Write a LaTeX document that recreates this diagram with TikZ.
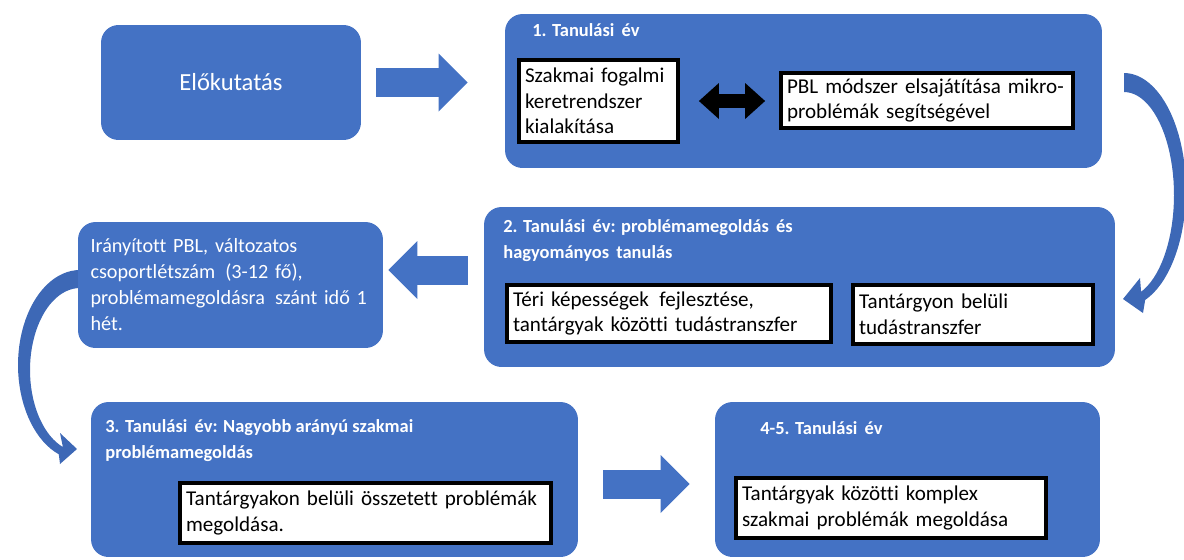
\documentclass[tikz,border=0pt]{standalone}
\usepackage{fontspec}
\setmainfont{Carlito}[Ligatures=CommonOff]
\usetikzlibrary{arrows.meta}
\definecolor{phaseblue}{HTML}{4472C4}
\definecolor{turnblue}{HTML}{3D68B6}

\begin{document}
\begin{tikzpicture}[x=0.02cm,y=-0.02cm,
  phase/.style={fill=phaseblue,rounded corners=0.35cm,inner sep=0pt},
  phasetitle/.style={text=white,anchor=west,align=left,inner sep=0pt,font=\bfseries\fontsize{10.5}{14.8}\selectfont},
  textbox/.style={fill=white,draw=black,line width=2.2pt,align=left,inner xsep=0.12cm,inner ysep=0pt,font=\fontsize{12}{14.6}\selectfont},
  bigarrow/.style={draw=phaseblue,line width=0.58cm,-{Triangle[length=0.58cm,width=1.16cm,line width=0pt]}},
  pairarrow/.style={draw=black,line width=0.28cm,{Triangle[length=0.4cm,width=0.72cm,line width=0pt]}-{Triangle[length=0.4cm,width=0.72cm,line width=0pt]}}]
\useasboundingbox (0,0) rectangle (1184,559);

% curved arrows
\fill[turnblue] plot[domain=0:160,samples=40] ({1124+62*sin(\x)},{190-117*cos(\x)})
  -- (1143,313) -- (1123,299) -- (1140,278)
  -- plot[domain=160:0,samples=40] ({1124+50*sin(\x)},{195-103*cos(\x)}) -- cycle;
\fill[turnblue] plot[domain=0:160,samples=40] ({80-62*sin(\x)},{365-95*cos(\x)})
  -- (60,464) -- (77,449) -- (60,433)
  -- plot[domain=160:0,samples=40] ({80-50*sin(\x)},{370-82*cos(\x)}) -- cycle;

% first row
\node[phase,minimum width=5.2cm,minimum height=2.3cm,text=white,font=\fontsize{14}{17}\selectfont] (pre) at (231,82.5) {Előkutatás\hspace{0.35cm}};
\node[phase,minimum width=11.94cm,minimum height=3.08cm] (y1) at (803.5,91) {};
\node[phasetitle] (t1) at (532,30) {1. Tanulási\, év};
\node[textbox,text width=2.94cm,minimum height=1.64cm] (fw) at (598.5,101) {Szakmai fogalmi\\ keretrendszer\\ kialakítása};
\node[textbox,text width=5.6cm,minimum height=1.1cm] (pbl) at (927,100.5) {PBL módszer elsajátítása mikro-\\ problémák segítségével};
\draw[bigarrow,shorten <=0.3cm,shorten >=0.74cm] (pre.east) -- (pre.east -| y1.west);
\draw[pairarrow,shorten <=0.38cm,shorten >=0.28cm] (fw.east) -- (fw.east -| pbl.west);

% second row
\node[phase,minimum width=12.62cm,minimum height=3.2cm] (y2) at (799.5,287) {};
\node[phasetitle] (t2) at (503,241) {2. Tanulási\, év: problémamegoldás\, és\\ hagyományos\, tanulás};
\node[textbox,text width=6.24cm,minimum height=1.14cm] (skills) at (669,313.5) {Téri képességek\, fejlesztése,\\ tantárgyak közötti tudástranszfer};
\node[textbox,text width=4.56cm,minimum height=1.18cm] (within) at (973,314.5) {Tantárgyon belüli\\ tudástranszfer};
\node[phase,minimum width=6.1cm,minimum height=2.52cm,inner xsep=0.25cm,text width=5.6cm,align=left,text=white,font=\fontsize{11.5}{14.8}\selectfont] (guided) at (230.5,285)
  {Irányított PBL, változatos\\ csoportlétszám\, (3-12 fő),\\ problémamegoldásra\, szánt idő 1\\ hét.};
\draw[bigarrow,shorten <=0.32cm,shorten >=0.1cm] ([yshift=0.34cm]y2.west) -- ([yshift=0.34cm]y2.west -| guided.east);

% third row
\node[phase,minimum width=9.74cm,minimum height=3.1cm] (y3) at (334.5,479.5) {};
\node[phasetitle] (t3) at (105,441) {3. Tanulási\, év: Nagyobb arányú szakmai\\ problémamegoldás};
\node[textbox,text width=7.18cm,minimum height=1.2cm] (inside) at (365.5,513) {Tantárgyakon belüli összetett problémák\\ megoldása.};
\node[phase,minimum width=7.7cm,minimum height=3.1cm] (y4) at (907.5,479.5) {};
\node[phasetitle] (t4) at (760,428) {4-5. Tanulási\, év};
\node[textbox,text width=5.96cm,minimum height=1.2cm] (complex) at (891,508) {Tantárgyak közötti komplex\\ szakmai problémák megoldása};
\draw[bigarrow,shorten <=0.5cm,shorten >=0.5cm] ([yshift=-0.09cm]y3.east) -- ([yshift=-0.09cm]y3.east -| y4.west);
\end{tikzpicture}
\end{document}
